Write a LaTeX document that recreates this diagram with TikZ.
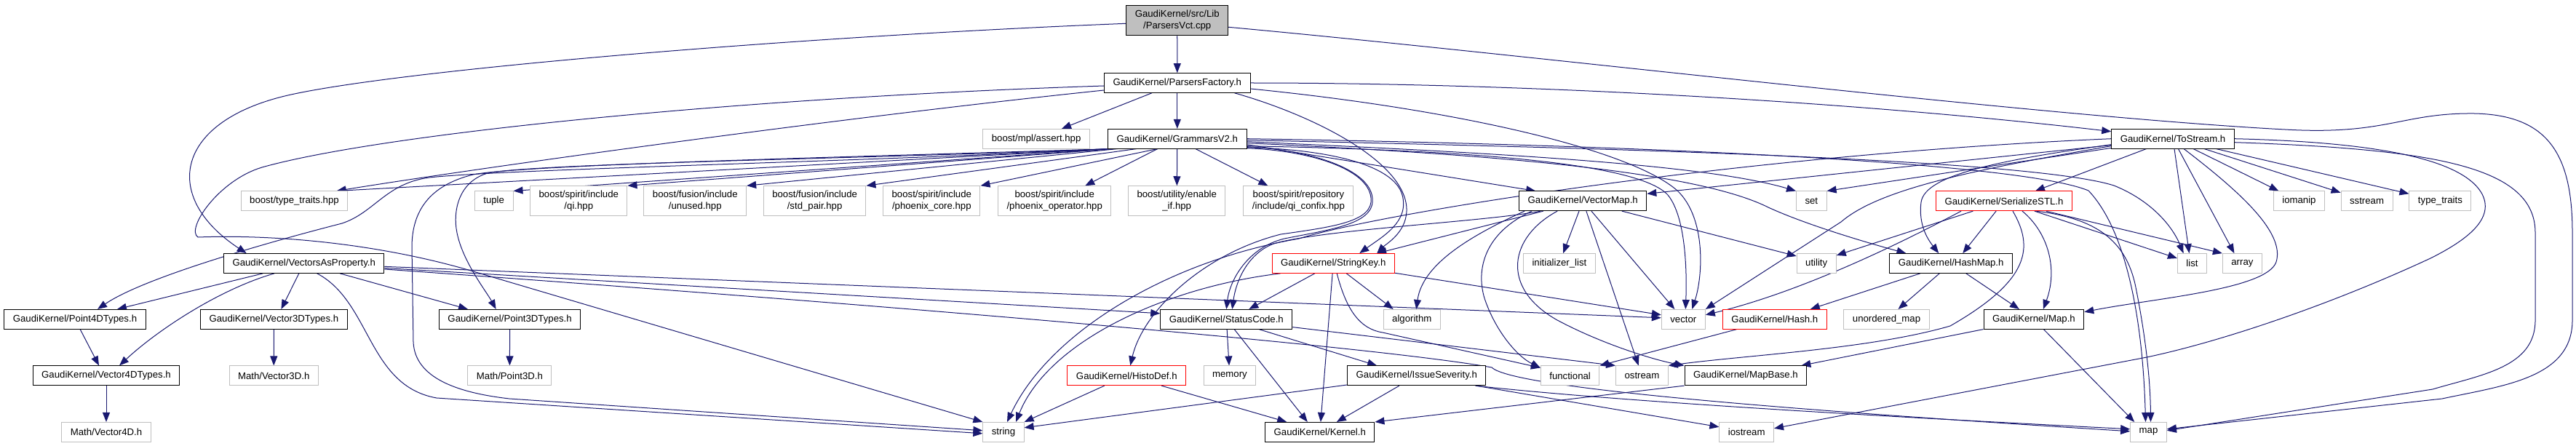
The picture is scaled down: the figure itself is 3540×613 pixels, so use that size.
\documentclass[tikz,border=0pt]{standalone}
\usepackage{fontspec}
\setmainfont{Liberation Sans}
\usetikzlibrary{calc,arrows.meta}
\definecolor{edgeblue}{RGB}{25,25,112}
\definecolor{sysgray}{RGB}{191,191,191}
\pgfdeclarelayer{edgelayer}
\pgfsetlayers{edgelayer,main}
\tikzset{
	hdr/.style={draw=black, fill=white, line width=0.75pt, inner xsep=9pt, inner ysep=4.8pt,
		minimum height=20pt, align=center, font=\fontsize{9.9pt}{12pt}\selectfont},
	roothdr/.style={hdr, fill=sysgray},
	redhdr/.style={hdr, draw=red},
	syshdr/.style={hdr, draw=sysgray},
	incl/.style={draw=edgeblue, line width=0.75pt, -{Triangle[length=9.75pt, width=7.5pt]}},
}

\begin{document}
\begin{tikzpicture}[x=0.75pt, y=-0.75pt]
			%%%%% START %%%%%
			\useasboundingbox (0,0) rectangle (3540,613);
			
			\node[roothdr] (root) at (1617.7,28.3) {GaudiKernel/src/Lib\\/ParsersVct.cpp};
			\node[hdr] (pfac) at (1617.8,114) {GaudiKernel/ParsersFactory.h};
			\node[syshdr] (assert) at (1424.1,190.7) {boost/mpl/assert.hpp};
			\node[hdr] (gram) at (1617.8,190.7) {GaudiKernel/GrammarsV2.h};
			\node[hdr] (tostr) at (2986,190.7) {GaudiKernel/ToStream.h};
			
			\node[syshdr] (btt) at (404.5,276.3) {boost/type\_traits.hpp};
			\node[syshdr] (tuple) at (678.7,276.3) {tuple};
			\node[syshdr] (qi) at (795.3,276.3) {boost/spirit/include\\/qi.hpp};
			\node[syshdr] (unused) at (955.3,276.3) {boost/fusion/include\\/unused.hpp};
			\node[syshdr] (stdpair) at (1119.6,276.3) {boost/fusion/include\\/std\_pair.hpp};
			\node[syshdr] (phcore) at (1280.3,276.3) {boost/spirit/include\\/phoenix\_core.hpp};
			\node[syshdr] (phop) at (1449.2,276.3) {boost/spirit/include\\/phoenix\_operator.hpp};
			\node[syshdr] (enable) at (1617.2,276.3) {boost/utility/enable\\\_if.hpp};
			\node[syshdr] (confix) at (1784.4,276.3) {boost/spirit/repository\\/include/qi\_confix.hpp};
			\node[hdr] (vmap) at (2175.2,276.3) {GaudiKernel/VectorMap.h};
			\node[syshdr] (set) at (2489.3,276.3) {set};
			\node[redhdr] (sstl) at (2754,276.3) {GaudiKernel/SerializeSTL.h};
			\node[syshdr] (iomanip) at (3159.4,276.3) {iomanip};
			\node[syshdr] (sstream) at (3252.5,276.3) {sstream};
			\node[syshdr] (typetr) at (3353.4,276.3) {type\_traits};
			
			\node[hdr] (vap) at (417.7,362) {GaudiKernel/VectorsAsProperty.h};
			\node[redhdr] (skey) at (1832.2,362) {GaudiKernel/StringKey.h};
			\node[syshdr] (initl) at (2142.9,362) {initializer\_list};
			\node[syshdr] (utility) at (2496.2,362) {utility};
			\node[hdr] (hmap) at (2681.2,362) {GaudiKernel/HashMap.h};
			\node[syshdr] (list) at (3012.5,362) {list};
			\node[syshdr] (array) at (3081.4,362) {array};
			
			\node[hdr] (p4d) at (103,438.8) {GaudiKernel/Point4DTypes.h};
			\node[hdr] (v3d) at (376.4,438.8) {GaudiKernel/Vector3DTypes.h};
			\node[hdr] (p3d) at (700.6,438.8) {GaudiKernel/Point3DTypes.h};
			\node[hdr] (scode) at (1685.3,438.8) {GaudiKernel/StatusCode.h};
			\node[syshdr] (algo) at (1940.3,438.8) {algorithm};
			\node[syshdr] (vector) at (2313.3,438.8) {vector};
			\node[redhdr] (hash) at (2438.8,438.8) {GaudiKernel/Hash.h};
			\node[syshdr] (umap) at (2592.5,438.8) {unordered\_map};
			\node[hdr] (gmap) at (2794.9,438.8) {GaudiKernel/Map.h};
			
			\node[hdr] (v4d) at (146,516.3) {GaudiKernel/Vector4DTypes.h};
			\node[syshdr] (mv3d) at (376.2,516.3) {Math/Vector3D.h};
			\node[syshdr] (mp3d) at (700.4,516.3) {Math/Point3D.h};
			\node[redhdr] (histo) at (1548.3,516.3) {GaudiKernel/HistoDef.h};
			\node[syshdr] (memory) at (1689.9,516.3) {memory};
			\node[hdr] (issue) at (1946.8,516.3) {GaudiKernel/IssueSeverity.h};
			\node[syshdr] (functional) at (2157.6,516.3) {functional};
			\node[syshdr] (ostream) at (2256.4,516.3) {ostream};
			\node[hdr] (mbase) at (2398.9,516.3) {GaudiKernel/MapBase.h};
			
			\node[syshdr] (mv4d) at (146,593.8) {Math/Vector4D.h};
			\node[syshdr] (string) at (1379,593.8) {string};
			\node[hdr] (kernel) at (1813.8,593.8) {GaudiKernel/Kernel.h};
			\node[syshdr] (iostream) at (2400.2,593.8) {iostream};
			\node[syshdr] (map) at (2952.5,593.8) {map};
			
			\begin{pgfonlayer}{edgelayer}
			% ParsersVct.cpp
			\draw[incl] (root) -- (pfac);
			\draw[incl] ($(root.west)+(0,4)$) .. controls (1100,50) and (560,95) .. (400,130) .. controls (240,165) and (220,270) .. ($(vap.north)+(-79,0)$);
			\draw[incl] ($(root.east)+(0,9)$) .. controls (2100,75) and (2800,160) .. (3140,178) .. controls (3280,186) and (3300,155) .. (3400,156) .. controls (3500,158) and (3535,210) .. (3535,320) -- (3535,440) .. controls (3535,520) and (3440,530) .. (3356,548) -- ($(map.east)+(0,-4)$);
			
			% ParsersFactory.h
			\draw[incl] (pfac) -- (assert);
			\draw[incl] (pfac) -- (gram);
			\draw[incl] ($(pfac.west)+(0,10)$) .. controls (1150,162) and (650,232) .. ($(btt.north)+(58,0)$);
			\draw[incl] ($(pfac.west)+(0,4)$) .. controls (1000,135) and (520,185) .. (360,230) .. controls (300,248) and (255,315) .. (272,326) .. controls (380,322) and (520,335) .. (647,372) -- (string.north west);
			\draw[incl] ($(pfac.south east)+(-22,0)$) .. controls (1810,160) and (1935,225) .. (1933,290) .. controls (1932,320) and (1905,335) .. ($(skey.north)+(60,0)$);
			\draw[incl] (pfac.east) .. controls (2100,114) and (2550,140) .. ($(tostr.west)+(0,-10)$);
			\draw[incl] ($(pfac.east)+(0,8)$) .. controls (2000,150) and (2240,205) .. (2305,262) .. controls (2345,300) and (2340,380) .. ($(vector.north)+(12,0)$);
			
			% GrammarsV2.h
			\draw[incl] ($(gram.south west)+(2,0)$) -- ($(btt.north)+(58,0)$);
			\draw[incl] ($(gram.south west)+(4,0)$) -- (tuple.north east);
			\draw[incl] ($(gram.south west)+(8,0)$) -- (qi.north east);
			\draw[incl] ($(gram.south west)+(14,0)$) -- (unused.north east);
			\draw[incl] ($(gram.south west)+(40,0)$) -- (stdpair.north east);
			\draw[incl] ($(gram.south)+(-27,0)$) -- (phcore.north east);
			\draw[incl] ($(gram.south)+(-27,0)$) -- ($(phop.north)+(42,0)$);
			\draw[incl] (gram) -- (enable);
			\draw[incl] ($(gram.south)+(25,0)$) -- ($(confix.north)+(-42,0)$);
			\draw[incl] ($(gram.south west)+(3,0)$) .. controls (1200,222) and (700,232) .. (590,244) .. controls (530,252) and (515,292) .. (470,307) .. controls (380,330) and (200,380) .. ($(p4d.north)+(31,0)$);
			\draw[incl] ($(gram.south west)+(5,0)$) .. controls (1200,218) and (740,224) .. (670,238) .. controls (630,250) and (622,290) .. (628,320) .. controls (636,360) and (668,400) .. ($(p3d.north)+(-19,0)$);
			\draw[incl] ($(gram.south west)+(6,0)$) .. controls (1200,215) and (720,226) .. (650,240) .. controls (590,255) and (566,290) .. (566,340) -- (568,470) .. controls (570,520) and (630,540) .. (700,548) -- ($(string.west)+(0,-2)$);
			\draw[incl] ($(gram.east)+(0,8)$) -- ($(vmap.north)+(-65,0)$);
			\draw[incl] ($(gram.east)+(0,4)$) .. controls (2100,212) and (2350,228) .. (set.north west);
			\draw[incl] ($(gram.east)+(0,6)$) .. controls (2050,212) and (2330,235) .. (2430,285) .. controls (2480,308) and (2560,332) .. ($(hmap.north west)+(23,0)$);
			\draw[incl] ($(gram.east)+(0,2)$) .. controls (2300,205) and (2800,222) .. (2905,255) .. controls (2955,275) and (2985,310) .. ($(list.north)+(-12,0)$);
			\draw[incl] (gram.east) .. controls (2300,200) and (2780,225) .. (2870,262) .. controls (2925,320) and (2945,450) .. ($(map.north)+(-4,0)$);
			\draw[incl] ($(gram.east)+(0,10)$) .. controls (2000,206) and (2250,222) .. (2292,268) .. controls (2318,300) and (2318,380) .. ($(vector.north)+(3,0)$);
			\draw[incl] ($(gram.east)+(0,12)$) .. controls (1820,205) and (1915,225) .. (1927,268) .. controls (1937,305) and (1900,325) .. ($(skey.north)+(36,0)$);
			\draw[incl] ($(gram.east)+(0,13)$) .. controls (1800,207) and (1880,232) .. (1884,272) .. controls (1888,305) and (1830,312) .. (1760,322) .. controls (1650,350) and (1570,430) .. ($(histo.north)+(5,0)$);
			\draw[incl] ($(gram.east)+(0,11)$) .. controls (1800,206) and (1882,232) .. (1886,272) .. controls (1890,308) and (1830,315) .. (1765,328) .. controls (1715,340) and (1690,385) .. (scode.north);
			
			% VectorMap.h
			\draw[incl] ($(vmap.south west)+(30,0)$) .. controls (2040,305) and (1820,315) .. (1750,335) .. controls (1712,350) and (1698,390) .. ($(scode.north)+(8,0)$);
			\draw[incl] (vmap) -- ($(skey.north)+(60,0)$);
			\draw[incl] ($(vmap.south west)+(8,0)$) .. controls (2030,320) and (1955,360) .. ($(algo.north)+(6,0)$);
			\draw[incl] ($(vmap.south west)+(18,0)$) .. controls (2040,320) and (2028,370) .. (2040,410) .. controls (2055,455) and (2085,490) .. ($(functional.north west)+(0,3)$);
			\draw[incl] ($(vmap.south)+(-35,0)$) .. controls (2075,325) and (2060,395) .. (2140,440) .. controls (2200,472) and (2270,494) .. (mbase.north west);
			\draw[incl] (vmap) -- (initl);
			\draw[incl] (vmap) -- (ostream);
			\draw[incl] (vmap) -- ($(vector.north)+(-12,0)$);
			\draw[incl] (vmap) -- ($(utility.west)+(0,-10)$);
			
			% StringKey.h
			\draw[incl] (skey) -- ($(scode.north east)+(-60,0)$);
			\draw[incl] (skey) -- (kernel);
			\draw[incl] ($(skey.south)+(5,0)$) .. controls (1850,425) and (1868,452) .. (1900,457) -- ($(functional.north west)+(0,3)$);
			\draw[incl] (skey) -- ($(algo.north west)+(14,0)$);
			\draw[incl] (skey) -- ($(vector.west)+(0,-6)$);
			\draw[incl] ($(skey.south west)+(12,0)$) .. controls (1600,395) and (1440,470) .. ($(string.north)+(17,0)$);
			
			% ToStream.h
			\draw[incl] (tostr) -- (iomanip);
			\draw[incl] (tostr) -- (sstream);
			\draw[incl] (tostr) -- (typetr);
			\draw[incl] (tostr) -- ($(list.north)+(-4,0)$);
			\draw[incl] (tostr) -- ($(array.north)+(-11,0)$);
			\draw[incl] ($(tostr.south)+(15,0)$) .. controls (3080,265) and (3140,320) .. (3128,360) .. controls (3115,398) and (2960,410) .. ($(gmap.east)+(0,-10)$);
			\draw[incl] (tostr.east) .. controls (3250,195) and (3380,215) .. (3410,265) .. controls (3430,300) and (3390,330) .. (3340,355) .. controls (3200,420) and (3050,470) .. (2950,491) -- ($(iostream.east)+(0,-5)$);
			\draw[incl] ($(tostr.east)+(0,5)$) .. controls (3350,205) and (3484,230) .. (3484,320) -- (3484,440) .. controls (3484,505) and (3410,515) .. (3343,535) -- ($(map.east)+(0,-2)$);
			\draw[incl] (tostr) -- ($(sstl.north east)+(-51,0)$);
			\draw[incl] (tostr) -- ($(vmap.east)+(0,-10)$);
			\draw[incl] ($(tostr.west)+(0,8)$) .. controls (2750,220) and (2645,240) .. (2640,278) .. controls (2636,310) and (2650,330) .. ($(hmap.north)+(-17,0)$);
			\draw[incl] (tostr) -- (set.north east);
			\draw[incl] ($(tostr.west)+(0,10)$) .. controls (2700,235) and (2580,262) .. (2530,305) -- (vector.north east);
			\draw[incl] (tostr.west) .. controls (2400,212) and (1900,292) .. (1785,328) .. controls (1600,360) and (1440,460) .. ($(string.north)+(5,0)$);
			
			% SerializeSTL.h
			\draw[incl] ($(sstl.south west)+(35,0)$) .. controls (2620,330) and (2480,400) .. ($(vector.east)+(0,-6)$);
			\draw[incl] (sstl) -- ($(utility.east)+(0,-11)$);
			\draw[incl] (sstl) -- ($(hmap.north)+(16,0)$);
			\draw[incl] ($(sstl.south)+(25,0)$) .. controls (2815,320) and (2828,370) .. ($(gmap.north)+(13,0)$);
			\draw[incl] ($(sstl.south)+(12,0)$) .. controls (2795,340) and (2790,385) .. (2680,448) .. controls (2570,480) and (2400,488) .. (ostream.north east);
			\draw[incl] (sstl) -- ($(list.west)+(0,-7)$);
			\draw[incl] (sstl) -- (array.north west);
			\draw[incl] ($(sstl.south east)+(-50,0)$) .. controls (2880,300) and (2922,330) .. (2935,395) .. controls (2948,460) and (2955,520) .. ($(map.north)+(3,0)$);
			
			% HashMap.h, Hash.h, Map.h, MapBase.h
			\draw[incl] (hmap) -- ($(hash.north east)+(-23,0)$);
			\draw[incl] (hmap) -- (umap);
			\draw[incl] (hmap) -- ($(gmap.north)+(-20,0)$);
			\draw[incl] (hash) -- (functional.north east);
			\draw[incl] (gmap) -- ($(mbase.north east)+(-8,0)$);
			\draw[incl] (gmap) -- ($(map.north west)+(6,0)$);
			\draw[incl] (mbase.south west) -- (kernel.north east);
			
			% StatusCode.h, IssueSeverity.h, HistoDef.h
			\draw[incl] (scode) -- (memory);
			\draw[incl] (scode) -- ($(issue.north west)+(41,0)$);
			\draw[incl] (scode) -- ($(kernel.north)+(-17,0)$);
			\draw[incl] (scode) -- (ostream.north west);
			\draw[incl] (issue) -- ($(kernel.north)+(23,0)$);
			\draw[incl] (issue) -- ($(string.east)+(0,-6)$);
			\draw[incl] (issue) -- ($(iostream.west)+(0,-7)$);
			\draw[incl] ($(issue.south east)+(-15,0)$) .. controls (2250,555) and (2700,578) .. ($(map.west)+(0,-4)$);
			\draw[incl] (histo) -- (string.north east);
			\draw[incl] (histo) -- ($(kernel.north west)+(30,0)$);
			
			% VectorsAsProperty.h
			\draw[incl] (vap) -- ($(p4d.north)+(58,0)$);
			\draw[incl] ($(vap.south west)+(70,0)$) .. controls (300,398) and (215,455) .. ($(v4d.north)+(18,0)$);
			\draw[incl] (vap) -- ($(v3d.north)+(10,0)$);
			\draw[incl] (vap) -- ($(p3d.north west)+(40,0)$);
			\draw[incl] ($(vap.south)+(18,0)$) .. controls (510,415) and (505,530) .. (600,547) -- ($(string.west)+(0,2)$);
			\draw[incl] (vap) -- ($(scode.west)+(0,-8)$);
			\draw[incl] (vap) -- ($(vector.west)+(0,-2)$);
			\draw[incl] ($(vap.east)+(0,8)$) .. controls (1300,425) and (1900,478) .. (2050,505) .. controls (2080,535) and (2500,566) .. ($(map.west)+(0,-1)$);
			\draw[incl] (p4d) -- ($(v4d.north)+(-10,0)$);
			\draw[incl] (v4d) -- (mv4d);
			\draw[incl] (v3d) -- (mv3d);
			\draw[incl] (p3d) -- (mp3d);
			\end{pgfonlayer}
			
			%%%%% END %%%%%
\end{tikzpicture}
\end{document}
